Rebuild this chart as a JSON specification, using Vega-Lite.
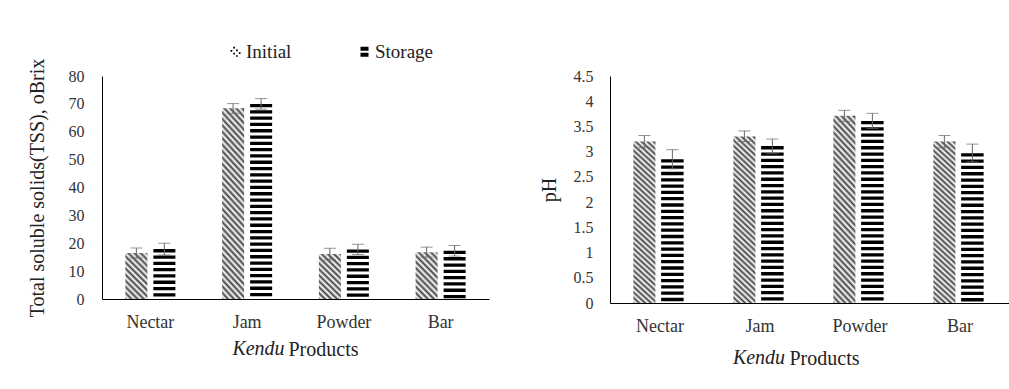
{
  "$schema": "https://vega.github.io/schema/vega-lite/v6.json",
  "padding": {"left": 26, "top": 42, "right": 0, "bottom": 0},
  "background": "white",
  "datasets": {
    "tss": [
      {"product": "Nectar", "series": "Initial", "value": 16.5, "lo": 14.7, "hi": 18.3},
      {"product": "Nectar", "series": "Storage", "value": 17.9, "lo": 15.8, "hi": 20.0},
      {"product": "Jam", "series": "Initial", "value": 68.4, "lo": 66.6, "hi": 70.1},
      {"product": "Jam", "series": "Storage", "value": 70.0, "lo": 68.1, "hi": 71.9},
      {"product": "Powder", "series": "Initial", "value": 16.1, "lo": 14.0, "hi": 18.2},
      {"product": "Powder", "series": "Storage", "value": 17.8, "lo": 16.0, "hi": 19.6},
      {"product": "Bar", "series": "Initial", "value": 16.8, "lo": 15.0, "hi": 18.6},
      {"product": "Bar", "series": "Storage", "value": 17.3, "lo": 15.4, "hi": 19.2}
    ],
    "ph": [
      {"product": "Nectar", "series": "Initial", "value": 3.2, "lo": 3.08, "hi": 3.32},
      {"product": "Nectar", "series": "Storage", "value": 2.85, "lo": 2.66, "hi": 3.04},
      {"product": "Jam", "series": "Initial", "value": 3.3, "lo": 3.2, "hi": 3.41},
      {"product": "Jam", "series": "Storage", "value": 3.11, "lo": 2.96, "hi": 3.25},
      {"product": "Powder", "series": "Initial", "value": 3.71, "lo": 3.6, "hi": 3.82},
      {"product": "Powder", "series": "Storage", "value": 3.61, "lo": 3.46, "hi": 3.76},
      {"product": "Bar", "series": "Initial", "value": 3.2, "lo": 3.08, "hi": 3.32},
      {"product": "Bar", "series": "Storage", "value": 2.97, "lo": 2.8, "hi": 3.15}
    ]
  },
  "hconcat": [
    {
      "width": 387,
      "height": 223,
      "title": {"text": "Kendu", "orient": "bottom", "anchor": "middle", "fontStyle": "italic", "dx": -37, "offset": -4, "baseline": "alphabetic"},
      "data": {"name": "tss"},
      "encoding": {
        "x": {"field": "product", "type": "nominal", "sort": ["Nectar", "Jam", "Powder", "Bar"], "scale": {"paddingInner": 0, "paddingOuter": 0}, "axis": {"title": "Products", "titleX": 221, "titleAnchor": "middle", "titleAlign": "center"}},
        "xOffset": {"field": "series", "type": "nominal", "scale": {"domain": ["Initial", "Storage"], "paddingInner": 0.214, "paddingOuter": 0.834}}
      },
      "layer": [
        {
          "transform": [{"filter": "datum.series === 'Initial'"}],
          "mark": {"type": "bar", "strokeWidth": 0},
          "encoding": {
            "y": {"field": "value", "type": "quantitative", "title": "Total soluble solids(TSS), oBrix", "scale": {"domain": [0, 80], "nice": false}, "axis": {"values": [0, 10, 20, 30, 40, 50, 60, 70, 80], "titlePadding": 21}},
            "fill": {
              "condition": {"test": "datum.product === 'Jam'", "value": {"gradient": "linear", "x1": 0, "y1": 1, "x2": 0.1393, "y2": -0.1081, "stops": [
                {"offset": 0, "color": "#444"}, {"offset": 0.015, "color": "#fff"}, {"offset": 0.03, "color": "#444"}, {"offset": 0.045, "color": "#fff"}, {"offset": 0.06, "color": "#444"}, {"offset": 0.075, "color": "#fff"}, {"offset": 0.09, "color": "#444"}, {"offset": 0.105, "color": "#fff"}, {"offset": 0.12, "color": "#444"}, {"offset": 0.135, "color": "#fff"}, {"offset": 0.15, "color": "#444"}, {"offset": 0.165, "color": "#fff"}, {"offset": 0.18, "color": "#444"}, {"offset": 0.195, "color": "#fff"}, {"offset": 0.21, "color": "#444"}, {"offset": 0.225, "color": "#fff"}, {"offset": 0.24, "color": "#444"}, {"offset": 0.255, "color": "#fff"}, {"offset": 0.27, "color": "#444"}, {"offset": 0.285, "color": "#fff"}, {"offset": 0.3, "color": "#444"}, {"offset": 0.315, "color": "#fff"}, {"offset": 0.33, "color": "#444"}, {"offset": 0.345, "color": "#fff"}, {"offset": 0.36, "color": "#444"}, {"offset": 0.375, "color": "#fff"}, {"offset": 0.39, "color": "#444"}, {"offset": 0.405, "color": "#fff"}, {"offset": 0.42, "color": "#444"}, {"offset": 0.435, "color": "#fff"}, {"offset": 0.45, "color": "#444"}, {"offset": 0.465, "color": "#fff"}, {"offset": 0.48, "color": "#444"}, {"offset": 0.495, "color": "#fff"}, {"offset": 0.51, "color": "#444"}, {"offset": 0.525, "color": "#fff"}, {"offset": 0.54, "color": "#444"}, {"offset": 0.555, "color": "#fff"}, {"offset": 0.57, "color": "#444"}, {"offset": 0.585, "color": "#fff"}, {"offset": 0.6, "color": "#444"}, {"offset": 0.615, "color": "#fff"}, {"offset": 0.63, "color": "#444"}, {"offset": 0.645, "color": "#fff"}, {"offset": 0.66, "color": "#444"}, {"offset": 0.675, "color": "#fff"}, {"offset": 0.69, "color": "#444"}, {"offset": 0.705, "color": "#fff"}, {"offset": 0.72, "color": "#444"}, {"offset": 0.735, "color": "#fff"}, {"offset": 0.75, "color": "#444"}, {"offset": 0.765, "color": "#fff"}, {"offset": 0.78, "color": "#444"}, {"offset": 0.795, "color": "#fff"}, {"offset": 0.81, "color": "#444"}, {"offset": 0.825, "color": "#fff"}, {"offset": 0.84, "color": "#444"}, {"offset": 0.855, "color": "#fff"}, {"offset": 0.87, "color": "#444"}, {"offset": 0.885, "color": "#fff"}, {"offset": 0.9, "color": "#444"}, {"offset": 0.915, "color": "#fff"}, {"offset": 0.93, "color": "#444"}, {"offset": 0.945, "color": "#fff"}, {"offset": 0.96, "color": "#444"}, {"offset": 0.975, "color": "#fff"}, {"offset": 0.99, "color": "#444"}
              ]}},
              "value": {"gradient": "linear", "x1": 0, "y1": 1, "x2": 0.5754, "y2": -0.2031, "stops": [
                {"offset": 0, "color": "#444"}, {"offset": 0.045, "color": "#fff"}, {"offset": 0.09, "color": "#444"}, {"offset": 0.135, "color": "#fff"}, {"offset": 0.18, "color": "#444"}, {"offset": 0.225, "color": "#fff"}, {"offset": 0.27, "color": "#444"}, {"offset": 0.315, "color": "#fff"}, {"offset": 0.36, "color": "#444"}, {"offset": 0.405, "color": "#fff"}, {"offset": 0.45, "color": "#444"}, {"offset": 0.495, "color": "#fff"}, {"offset": 0.54, "color": "#444"}, {"offset": 0.585, "color": "#fff"}, {"offset": 0.63, "color": "#444"}, {"offset": 0.675, "color": "#fff"}, {"offset": 0.72, "color": "#444"}, {"offset": 0.765, "color": "#fff"}, {"offset": 0.81, "color": "#444"}, {"offset": 0.855, "color": "#fff"}, {"offset": 0.9, "color": "#444"}, {"offset": 0.945, "color": "#fff"}, {"offset": 0.99, "color": "#444"}
              ]}
            }
          }
        },
        {
          "transform": [{"filter": "datum.series === 'Storage'"}],
          "mark": {"type": "rule", "strokeWidth": 22, "strokeDash": [3.3, 3], "color": "#000"},
          "encoding": {
            "y": {"field": "value", "type": "quantitative", "title": "Total soluble solids(TSS), oBrix", "axis": {"values": [0, 10, 20, 30, 40, 50, 60, 70, 80], "titlePadding": 21}},
            "y2": {"datum": 0}
          }
        },
        {
          "mark": {"type": "rule", "color": "#666", "strokeWidth": 1},
          "encoding": {
            "y": {"field": "lo", "type": "quantitative", "title": "Total soluble solids(TSS), oBrix", "axis": {"values": [0, 10, 20, 30, 40, 50, 60, 70, 80], "titlePadding": 21}},
            "y2": {"field": "hi"}
          }
        },
        {
          "mark": {"type": "tick", "color": "#666", "size": 12, "thickness": 1},
          "encoding": {"y": {"field": "lo", "type": "quantitative", "title": "Total soluble solids(TSS), oBrix", "axis": {"values": [0, 10, 20, 30, 40, 50, 60, 70, 80], "titlePadding": 21}}}
        },
        {
          "mark": {"type": "tick", "color": "#666", "size": 12, "thickness": 1},
          "encoding": {"y": {"field": "hi", "type": "quantitative", "title": "Total soluble solids(TSS), oBrix", "axis": {"values": [0, 10, 20, 30, 40, 50, 60, 70, 80], "titlePadding": 21}}}
        },
        {
          "mark": {"type": "point", "filled": true, "opacity": 0, "color": "#000"},
          "encoding": {
            "y": {"field": "value", "type": "quantitative", "title": "Total soluble solids(TSS), oBrix", "axis": {"values": [0, 10, 20, 30, 40, 50, 60, 70, 80], "titlePadding": 21}},
            "shape": {
              "field": "series", "type": "nominal",
              "scale": {"domain": ["Initial", "Storage"], "range": [
                "M-1,-0.35h0.35v0.35h-0.35z M-0.45,0.2h0.35v0.35h-0.35z M0.1,0.7h0.35v0.3h-0.35z M-0.45,-1h0.35v0.35h-0.35z M0.1,-0.45h0.35v0.35h-0.35z M0.65,0.1h0.35v0.35h-0.35z",
                "M-0.8,-1H0.8V-0.2H-0.8Z M-0.8,0.2H0.8V1H-0.8Z"
              ]},
              "legend": {"orient": "none", "legendX": 124, "legendY": -34, "direction": "horizontal", "title": null, "symbolSize": 100, "symbolFillColor": "#000", "symbolStrokeWidth": 0, "symbolOpacity": 1, "labelFont": "Liberation Serif, Times New Roman, serif", "labelFontSize": 19, "labelColor": "#222", "columnPadding": 63, "labelOffset": 1, "padding": 0}
            }
          }
        }
      ]
    },
    {
      "width": 400,
      "height": 227,
      "title": {"text": "Kendu", "orient": "bottom", "anchor": "middle", "fontStyle": "italic", "dx": -51, "offset": -4, "baseline": "alphabetic"},
      "data": {"name": "ph"},
      "encoding": {
        "x": {"field": "product", "type": "nominal", "sort": ["Nectar", "Jam", "Powder", "Bar"], "scale": {"paddingInner": 0, "paddingOuter": 0}, "axis": {"title": "Products", "titlePadding": 13, "titleX": 214, "titleAnchor": "middle", "titleAlign": "center"}},
        "xOffset": {"field": "series", "type": "nominal", "scale": {"domain": ["Initial", "Storage"], "paddingInner": 0.22, "paddingOuter": 0.845}}
      },
      "layer": [
        {
          "transform": [{"filter": "datum.series === 'Initial'"}],
          "mark": {"type": "bar", "strokeWidth": 0},
          "encoding": {
            "y": {"field": "value", "type": "quantitative", "title": "pH", "scale": {"domain": [0, 4.5], "nice": false}, "axis": {"values": [0, 0.5, 1, 1.5, 2, 2.5, 3, 3.5, 4, 4.5], "format": ".1~f", "titlePadding": 14, "labelPadding": 17}},
            "fill": {"value": {"gradient": "linear", "x1": 0, "y1": 1, "x2": 0.1393, "y2": -0.1081, "stops": [
                {"offset": 0, "color": "#444"}, {"offset": 0.015, "color": "#fff"}, {"offset": 0.03, "color": "#444"}, {"offset": 0.045, "color": "#fff"}, {"offset": 0.06, "color": "#444"}, {"offset": 0.075, "color": "#fff"}, {"offset": 0.09, "color": "#444"}, {"offset": 0.105, "color": "#fff"}, {"offset": 0.12, "color": "#444"}, {"offset": 0.135, "color": "#fff"}, {"offset": 0.15, "color": "#444"}, {"offset": 0.165, "color": "#fff"}, {"offset": 0.18, "color": "#444"}, {"offset": 0.195, "color": "#fff"}, {"offset": 0.21, "color": "#444"}, {"offset": 0.225, "color": "#fff"}, {"offset": 0.24, "color": "#444"}, {"offset": 0.255, "color": "#fff"}, {"offset": 0.27, "color": "#444"}, {"offset": 0.285, "color": "#fff"}, {"offset": 0.3, "color": "#444"}, {"offset": 0.315, "color": "#fff"}, {"offset": 0.33, "color": "#444"}, {"offset": 0.345, "color": "#fff"}, {"offset": 0.36, "color": "#444"}, {"offset": 0.375, "color": "#fff"}, {"offset": 0.39, "color": "#444"}, {"offset": 0.405, "color": "#fff"}, {"offset": 0.42, "color": "#444"}, {"offset": 0.435, "color": "#fff"}, {"offset": 0.45, "color": "#444"}, {"offset": 0.465, "color": "#fff"}, {"offset": 0.48, "color": "#444"}, {"offset": 0.495, "color": "#fff"}, {"offset": 0.51, "color": "#444"}, {"offset": 0.525, "color": "#fff"}, {"offset": 0.54, "color": "#444"}, {"offset": 0.555, "color": "#fff"}, {"offset": 0.57, "color": "#444"}, {"offset": 0.585, "color": "#fff"}, {"offset": 0.6, "color": "#444"}, {"offset": 0.615, "color": "#fff"}, {"offset": 0.63, "color": "#444"}, {"offset": 0.645, "color": "#fff"}, {"offset": 0.66, "color": "#444"}, {"offset": 0.675, "color": "#fff"}, {"offset": 0.69, "color": "#444"}, {"offset": 0.705, "color": "#fff"}, {"offset": 0.72, "color": "#444"}, {"offset": 0.735, "color": "#fff"}, {"offset": 0.75, "color": "#444"}, {"offset": 0.765, "color": "#fff"}, {"offset": 0.78, "color": "#444"}, {"offset": 0.795, "color": "#fff"}, {"offset": 0.81, "color": "#444"}, {"offset": 0.825, "color": "#fff"}, {"offset": 0.84, "color": "#444"}, {"offset": 0.855, "color": "#fff"}, {"offset": 0.87, "color": "#444"}, {"offset": 0.885, "color": "#fff"}, {"offset": 0.9, "color": "#444"}, {"offset": 0.915, "color": "#fff"}, {"offset": 0.93, "color": "#444"}, {"offset": 0.945, "color": "#fff"}, {"offset": 0.96, "color": "#444"}, {"offset": 0.975, "color": "#fff"}, {"offset": 0.99, "color": "#444"}
              ]}}
          }
        },
        {
          "transform": [{"filter": "datum.series === 'Storage'"}],
          "mark": {"type": "rule", "strokeWidth": 22.5, "strokeDash": [3.3, 3], "color": "#000"},
          "encoding": {
            "y": {"field": "value", "type": "quantitative", "title": "pH", "axis": {"values": [0, 0.5, 1, 1.5, 2, 2.5, 3, 3.5, 4, 4.5], "format": ".1~f", "titlePadding": 14, "labelPadding": 17}},
            "y2": {"datum": 0}
          }
        },
        {
          "mark": {"type": "rule", "color": "#666", "strokeWidth": 1},
          "encoding": {
            "y": {"field": "lo", "type": "quantitative", "title": "pH", "axis": {"values": [0, 0.5, 1, 1.5, 2, 2.5, 3, 3.5, 4, 4.5], "format": ".1~f", "titlePadding": 14, "labelPadding": 17}},
            "y2": {"field": "hi"}
          }
        },
        {
          "mark": {"type": "tick", "color": "#666", "size": 12, "thickness": 1},
          "encoding": {"y": {"field": "lo", "type": "quantitative", "title": "pH", "axis": {"values": [0, 0.5, 1, 1.5, 2, 2.5, 3, 3.5, 4, 4.5], "format": ".1~f", "titlePadding": 14, "labelPadding": 17}}}
        },
        {
          "mark": {"type": "tick", "color": "#666", "size": 12, "thickness": 1},
          "encoding": {"y": {"field": "hi", "type": "quantitative", "title": "pH", "axis": {"values": [0, 0.5, 1, 1.5, 2, 2.5, 3, 3.5, 4, 4.5], "format": ".1~f", "titlePadding": 14, "labelPadding": 17}}}
        }
      ]
    }
  ],
  "spacing": 50,
  "resolve": {"scale": {"shape": "independent"}, "legend": {"shape": "independent"}},
  "config": {
    "view": {"stroke": null},
    "title": {"font": "Liberation Serif, Times New Roman, serif", "fontSize": 20, "fontWeight": "normal", "color": "#222"},
    "axis": {"domainColor": "#000", "domainWidth": 1, "ticks": false, "grid": false, "labelOverlap": false, "labelFont": "Liberation Serif, Times New Roman, serif", "titleFont": "Liberation Serif, Times New Roman, serif", "labelColor": "#333", "titleColor": "#222", "titleFontWeight": "normal"},
    "axisX": {"labelAngle": 0, "labelFontSize": 18, "labelPadding": 14, "titleFontSize": 20, "titlePadding": 8},
    "axisY": {"labelFontSize": 16, "labelPadding": 18, "titleFontSize": 20}
  }
}
